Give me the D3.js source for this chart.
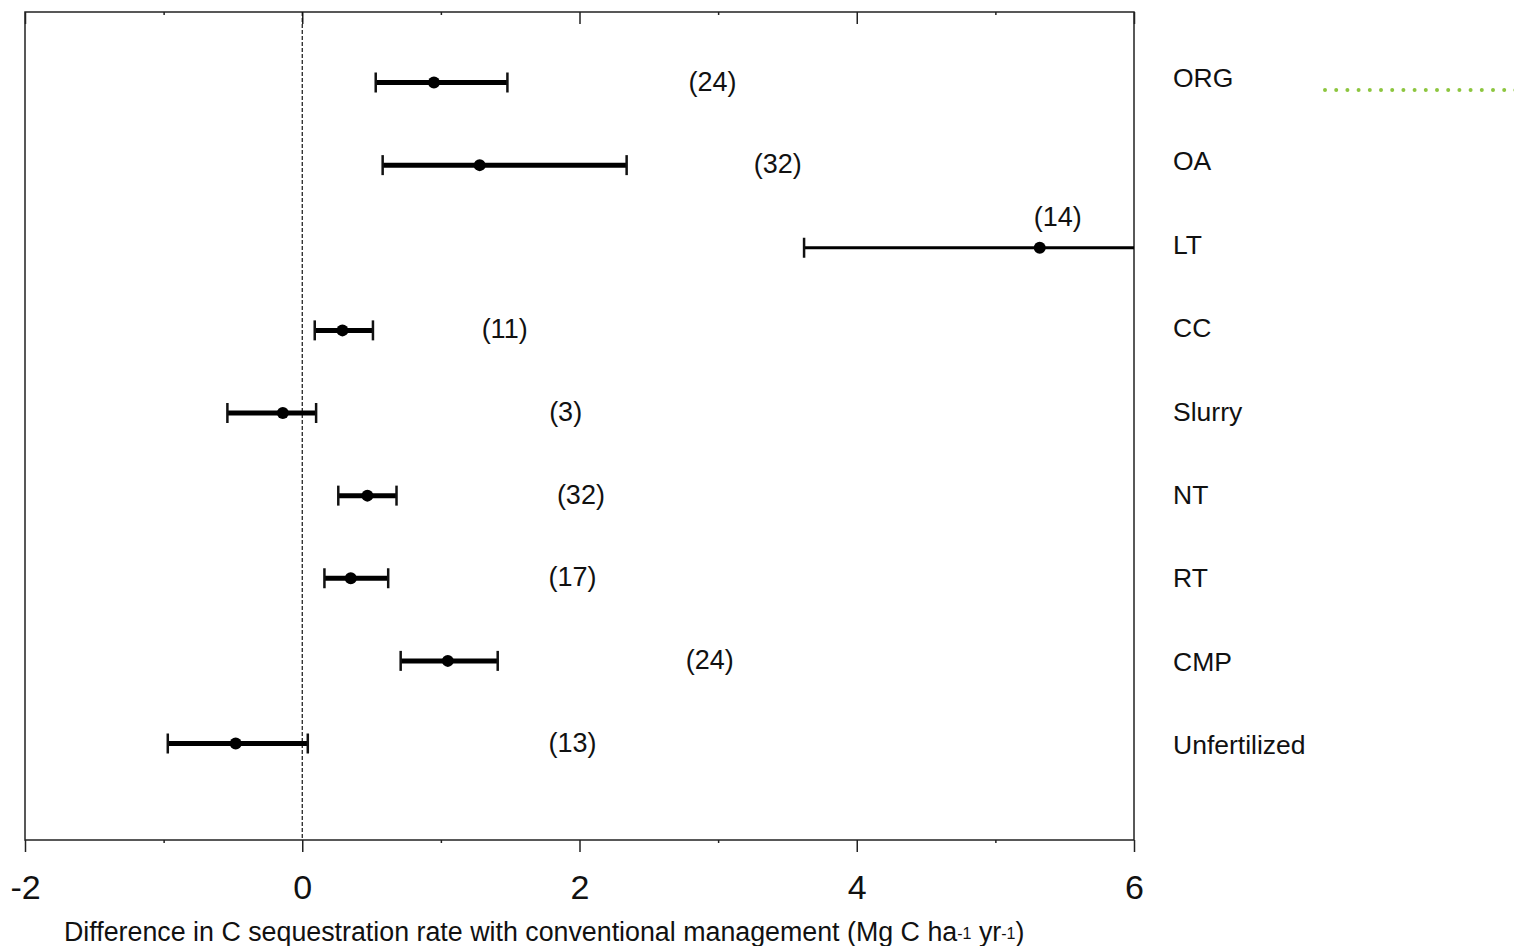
<!DOCTYPE html>
<html>
<head>
<meta charset="utf-8">
<script src="https://cdn.jsdelivr.net/npm/d3@7"></script>
<style>
  body { margin: 0; background: #fff; }
  text { font-family: "Liberation Sans", Arial, sans-serif; fill: #111; }
</style>
</head>
<body>
<div id="chart"></div>
<script>
// treatments, top to bottom
var categories = ["ORG", "OA", "LT", "CC", "Slurry", "NT", "RT", "CMP", "Unfertilized"];
// mean difference and confidence limits (Mg C ha-1 yr-1)
var means = [0.95, 1.28, 5.32, 0.29, -0.14, 0.47, 0.35, 1.05, -0.48];
var lower = [0.53, 0.58, 3.62, 0.09, -0.54, 0.26, 0.16, 0.71, -0.97];
var upper = [1.48, 2.34, 7.00, 0.51, 0.10, 0.68, 0.62, 1.41, 0.04];
// number of studies, and where the "(n)" note sits on the x axis
var counts = [24, 32, 14, 11, 3, 32, 17, 24, 13];
var countAt = [2.96, 3.43, 5.45, 1.46, 1.90, 2.01, 1.95, 2.94, 1.95];
var xTicks = [-2, 0, 2, 4, 6];
var xMinorTicks = [-1, 1, 3, 5];

var svgWidth = 1514;
var svgHeight = 946;

var margin = {top: 12, right: 380, bottom: 106, left: 25};
var width = svgWidth - margin.left - margin.right;
var height = svgHeight - margin.top - margin.bottom;

var svg = d3.select("#chart")
    .append("svg")
    .attr("width", svgWidth)
    .attr("height", svgHeight);

var chartGroup = svg.append("g")
    .attr("transform", `translate(${margin.left}, ${margin.top})`);

var rows = categories.map(function(c, i) {
    return {cat: c, mean: means[i], lo: lower[i], hi: upper[i], n: counts[i], at: countAt[i]};
});

// scales
var xScale = d3.scaleLinear()
    .domain([-2, 6])
    .range([0, width]);

var yScale = d3.scalePoint()
    .domain(categories)
    .range([70.5, 731.5]);

// the labels on the right are spaced a little wider than the bars
var labelScale = d3.scalePoint()
    .domain(categories)
    .range([66, 733]);

// clip so the LT interval runs off the frame
chartGroup.append("clipPath")
    .attr("id", "plotClip")
    .append("rect")
    .attr("width", width)
    .attr("height", height);

// axes: bottom with labels, top ticks pointing in
var xAxis = d3.axisBottom(xScale)
    .tickValues(xTicks)
    .tickSize(12)
    .tickFormat(d => String(d));

var xAxisG = chartGroup.append("g")
    .attr("transform", `translate(0,${height})`)
    .call(xAxis);
xAxisG.select(".domain").remove();
xAxisG.selectAll("line").attr("stroke", "#222").attr("stroke-width", 1.5);
xAxisG.selectAll("text")
    .attr("y", 35)
    .attr("dy", "0.71em")
    .style("font-size", "34px")
    .style("font-family", "'Liberation Sans', Arial, sans-serif")
    .attr("fill", "#111");

var minorBottom = chartGroup.append("g")
    .attr("transform", `translate(0,${height})`)
    .call(d3.axisBottom(xScale).tickValues(xMinorTicks).tickSize(3).tickFormat(""));
minorBottom.select(".domain").remove();
minorBottom.selectAll("line").attr("stroke", "#222").attr("stroke-width", 1.5);

var topAxis = chartGroup.append("g")
    .call(d3.axisTop(xScale).tickValues(xTicks).tickSize(-12).tickFormat(""));
topAxis.select(".domain").remove();
topAxis.selectAll("line").attr("stroke", "#222").attr("stroke-width", 1.5);

var minorTop = chartGroup.append("g")
    .call(d3.axisTop(xScale).tickValues(xMinorTicks).tickSize(-3).tickFormat(""));
minorTop.select(".domain").remove();
minorTop.selectAll("line").attr("stroke", "#222").attr("stroke-width", 1.5);

// frame
chartGroup.append("rect")
    .attr("width", width)
    .attr("height", height)
    .attr("fill", "none")
    .attr("stroke", "#222")
    .attr("stroke-width", 1.5);

// zero line
chartGroup.append("line")
    .attr("x1", xScale(0))
    .attr("x2", xScale(0))
    .attr("y1", 0)
    .attr("y2", height)
    .attr("stroke", "#111")
    .attr("stroke-width", 1.2)
    .attr("stroke-dasharray", "4,2");

// error bars
var barGroup = chartGroup.append("g")
    .attr("clip-path", "url(#plotClip)");

var offAxis = d => d.hi > xScale.domain()[1];

barGroup.selectAll(".ci")
    .data(rows)
    .enter()
    .append("line")
    .attr("x1", d => xScale(d.lo))
    .attr("x2", d => xScale(d.hi))
    .attr("y1", d => yScale(d.cat))
    .attr("y2", d => yScale(d.cat))
    .attr("stroke", "#000")
    .attr("stroke-width", d => offAxis(d) ? 3 : 5);

// caps
rows.forEach(function(d) {
    [d.lo, d.hi].forEach(function(v) {
        barGroup.append("line")
            .attr("x1", xScale(v))
            .attr("x2", xScale(v))
            .attr("y1", yScale(d.cat) - 10)
            .attr("y2", yScale(d.cat) + 10)
            .attr("stroke", "#111")
            .attr("stroke-width", 2.5);
    });
});

barGroup.selectAll(".mean")
    .data(rows)
    .enter()
    .append("circle")
    .attr("cx", d => xScale(d.mean))
    .attr("cy", d => yScale(d.cat))
    .attr("r", 6)
    .attr("fill", "#000");

// "(n)" notes: lifted above the bar when they would sit on it
chartGroup.selectAll(".count")
    .data(rows)
    .enter()
    .append("text")
    .attr("x", d => xScale(d.at))
    .attr("y", d => (d.at > d.lo && d.at < d.hi) ? yScale(d.cat) - 31 : yScale(d.cat) - 1)
    .attr("text-anchor", "middle")
    .attr("dominant-baseline", "central")
    .style("font-size", "27px")
    .text(d => `(${d.n})`);

// category labels right of the frame
chartGroup.selectAll(".cat")
    .data(rows)
    .enter()
    .append("text")
    .attr("x", width + 39)
    .attr("y", d => labelScale(d.cat))
    .attr("dominant-baseline", "central")
    .style("font-size", "26.5px")
    .text(d => d.cat);

// x axis title
var title = svg.append("text")
    .attr("x", 64)
    .attr("y", 941)
    .style("font-size", "26.8px");
title.append("tspan").text("Difference in C sequestration rate with conventional management (Mg C ha");
title.append("tspan").attr("dy", -2).style("font-size", "16px").text("-1");
title.append("tspan").attr("dy", 2).text(" yr");
title.append("tspan").attr("dy", -2).style("font-size", "16px").text("-1");
title.append("tspan").attr("dy", 2).text(")");

// green dotted stroke at the top right
svg.append("line")
    .attr("x1", 1325)
    .attr("x2", 1524)
    .attr("y1", 90)
    .attr("y2", 90)
    .attr("stroke", "#8dc63f")
    .attr("stroke-width", 4)
    .attr("stroke-linecap", "round")
    .attr("stroke-dasharray", "0,11.2");
</script>
</body>
</html>
